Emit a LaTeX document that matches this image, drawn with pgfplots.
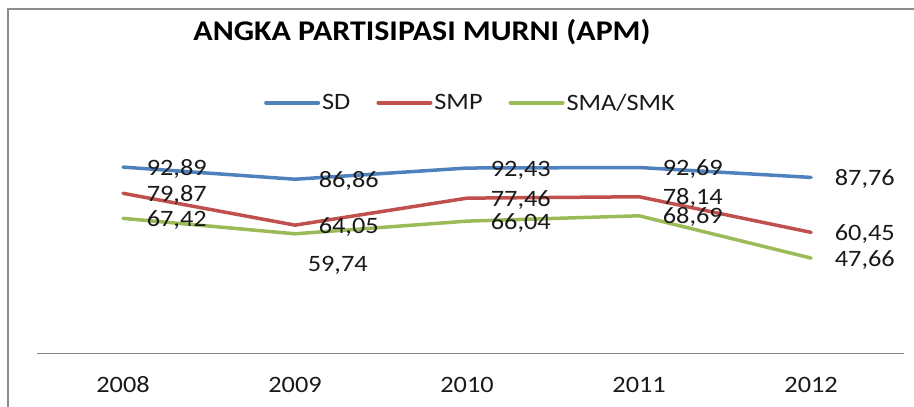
\documentclass[border=0pt]{standalone}
\usepackage{pgfplots}
\pgfplotsset{compat=1.18}
\usepackage{fontspec}
\setmainfont{Carlito}[FakeStretch=1.12]
\definecolor{sdblue}{HTML}{4F81BD}
\definecolor{smpred}{HTML}{C0504D}
\definecolor{smagreen}{HTML}{9BBB59}
\definecolor{frame}{HTML}{8C8C8C}
\definecolor{axgray}{HTML}{868686}
\definecolor{lbl}{HTML}{1A1A1A}
\pgfplotsset{vlabels/.style={nodes near coords={\pgfmathprintnumber[use comma,fixed,fixed zerofill,precision=2,assume math mode=true]{\pgfplotspointmeta}}}}
\begin{document}
\begin{tikzpicture}
\useasboundingbox (0,0) rectangle (914bp,407bp);
\draw[frame, line width=2bp] (8bp,0bp) -- (8bp,398bp) -- (914bp,398bp);
\node[anchor=base, font=\fontsize{28.5bp}{32bp}\selectfont\bfseries] at (422bp,366bp) {ANGKA PARTISIPASI MURNI (APM)};
\begin{axis}[
  at={(37bp,53bp)}, anchor=south west,
  scale only axis, width=867bp, height=201.2bp,
  xmin=-0.5, xmax=4.54, ymin=0, ymax=100,
  axis y line=none,
  axis x line*=bottom,
  x axis line style={axgray, line width=1bp, -},
  xtick={0,1,2,3,4},
  xticklabels={2008,2009,2010,2011,2012},
  major tick length=0pt,
  xticklabel style={anchor=base, yshift=-39bp, font=\fontsize{23.5bp}{27bp}\selectfont, text=lbl},
  clip=false,
  legend columns=3,
  legend style={at={(0.5,1)}, anchor=center, yshift=50bp, draw=none, fill=none,
    font=\fontsize{23.5bp}{27bp}\selectfont, text=lbl,
    /tikz/every even column/.append style={column sep=24bp},
    inner sep=0pt},
  legend image code/.code={\draw[#1, line width=4bp, line cap=round] (0bp,0bp) -- (52bp,0bp);},
  every axis plot/.append style={line width=3.5bp, line join=round, line cap=round},
  every node near coord/.append style={anchor=base west, inner sep=0pt, xshift=22bp, yshift=-8bp,
    font=\fontsize{23.5bp}{27bp}\selectfont, text=lbl},
]
\addplot[sdblue, vlabels] coordinates {(0,92.89) (1,86.86) (2,92.43) (3,92.69) (4,87.76)};
\addlegendentry{SD}
\addplot[smpred, vlabels] coordinates {(0,79.87) (1,64.05) (2,77.46) (3,78.14) (4,60.45)};
\addlegendentry{SMP}
\addplot[smagreen] coordinates {(0,67.42) (1,59.74) (2,66.04) (3,68.69) (4,47.66)};
\addlegendentry{SMA/SMK}
\addplot[draw=none, forget plot, vlabels] coordinates {(0,67.42) (2,66.04) (3,68.69) (4,47.66)};
\addplot[draw=none, forget plot, vlabels,
  every node near coord/.append style={xshift=-11bp, yshift=-29.5bp}] coordinates {(1,59.74)};
\end{axis}
\end{tikzpicture}
\end{document}
